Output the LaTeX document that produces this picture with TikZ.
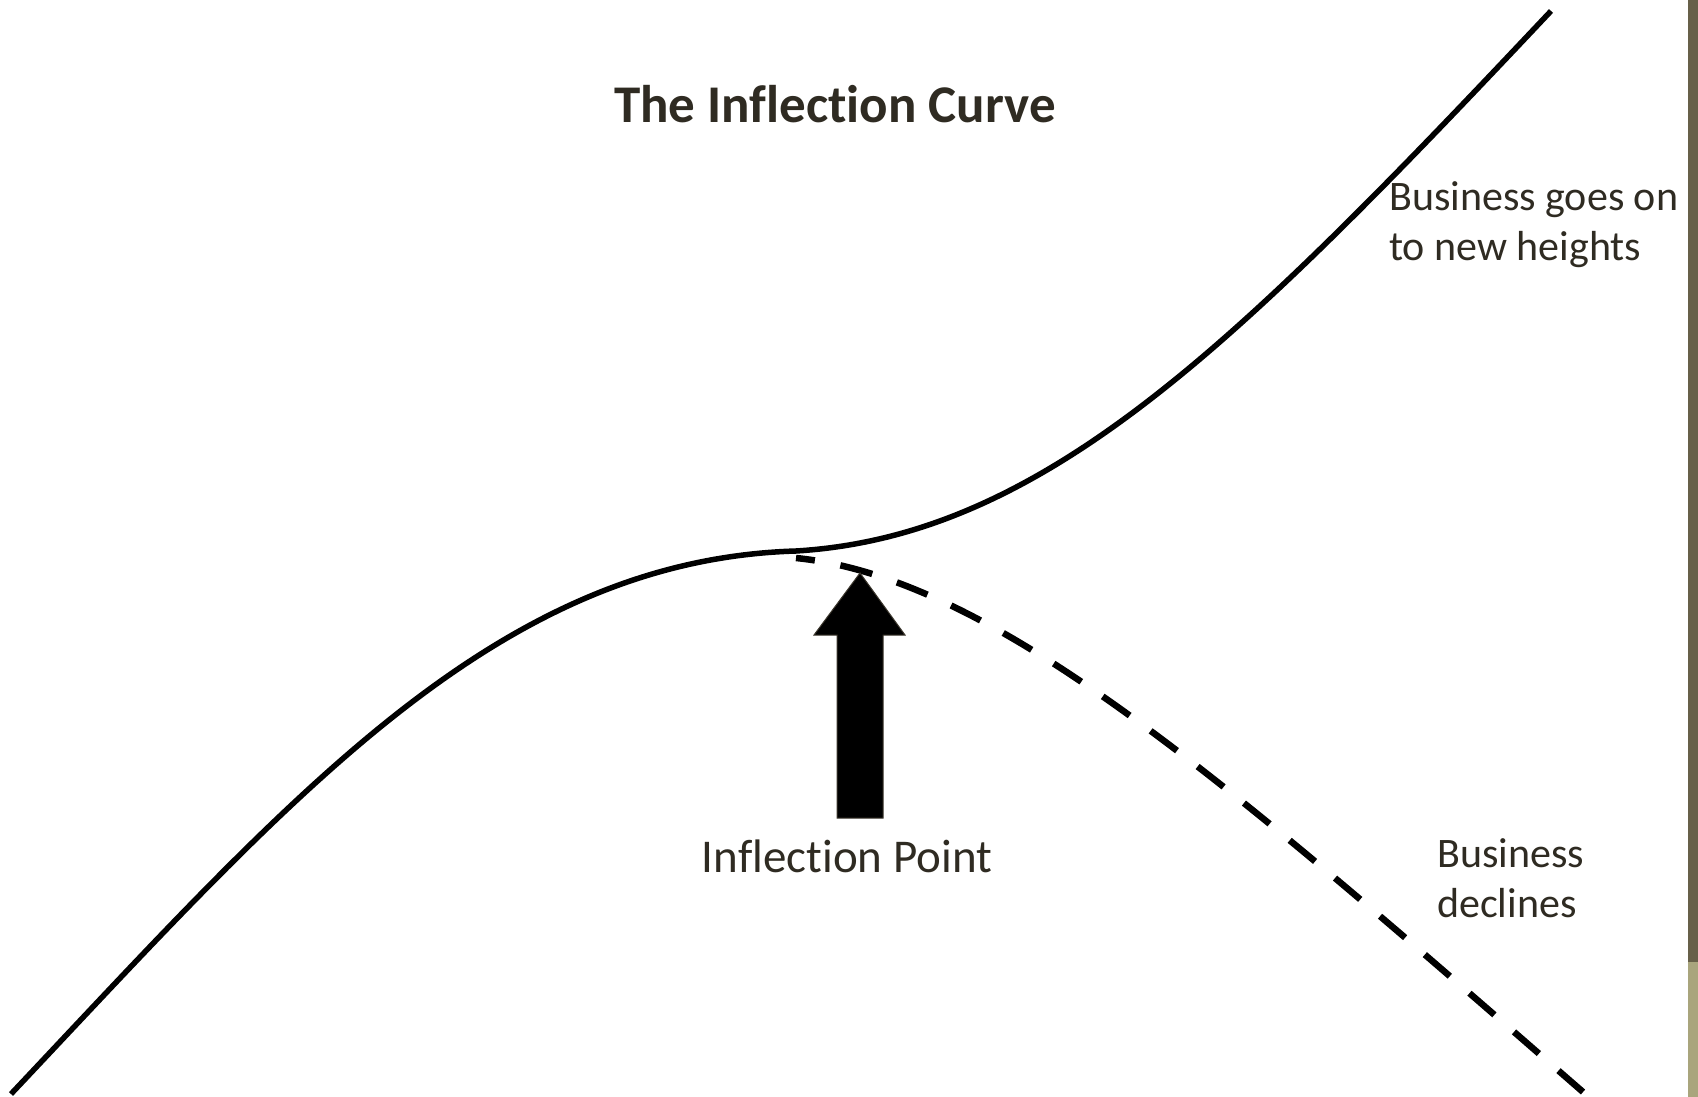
\documentclass[tikz,border=0pt]{standalone}
\usepackage{fontspec}
\setmainfont[Ligatures={NoCommon,NoContextual}]{Carlito}
\definecolor{txt}{RGB}{47,43,34}
\definecolor{bardark}{RGB}{103,96,73}
\definecolor{barlight}{RGB}{169,165,125}
\tikzset{
  curve/.style={line width=5.5pt, black},
  declinecurve/.style={line width=6.5pt, black, dash pattern=on 33pt off 26pt, dash phase=14pt},
  label/.style={text=txt, inner sep=0pt, font=\fontsize{42}{50}\selectfont, align=left},
  biglabel/.style={text=txt, inner sep=0pt, font=\fontsize{47}{56}\selectfont},
  titlelabel/.style={text=txt, inner sep=0pt, font=\fontsize{53}{64}\selectfont\bfseries},
  bigarrow/.style={fill=black, draw={rgb,255:red,60;green,55;blue,45}, line width=1pt, line join=miter}
}
\begin{document}
\begin{tikzpicture}[x=1pt,y=-1pt]
\useasboundingbox (0,0) rectangle (1698,1097);
\fill[white] (0,0) rectangle (1698,1097);
% right edge bar
\fill[bardark] (1688,0) rectangle (1698,962);
\fill[barlight] (1688,962) rectangle (1698,1097);
% title
\node[titlelabel, anchor=base] (title) at (835,123) {The Inflection Curve};
% key points
\coordinate (start) at (11,1094);
\coordinate (flat) at (796,551);
\coordinate (top) at (1551,11);
\coordinate (fork) at (796,558);
\coordinate (low) at (1583,1092);
% main curve
\draw[curve] (start) .. controls (291,797) and (496,560) .. (flat)
                     .. controls (1046,536) and (1241,340) .. (top);
% declining dashed branch
\draw[declinecurve] (fork) .. controls (996,578) and (1233,787) .. (low);
% arrow
\draw[bigarrow] (860,573) -- (905,635) -- (883,635) -- (883,818) -- (837,818) -- (837,635) -- (814,635) -- cycle;
% labels
\node[biglabel, anchor=base] (ip) at (847,872) {Inflection Point};
\node[label, anchor=base west] (up) at (1389,260) {Business goes on\\to new heights};
\node[label, anchor=base west] (down) at (1437,917) {Business\\declines};
\end{tikzpicture}
\end{document}
